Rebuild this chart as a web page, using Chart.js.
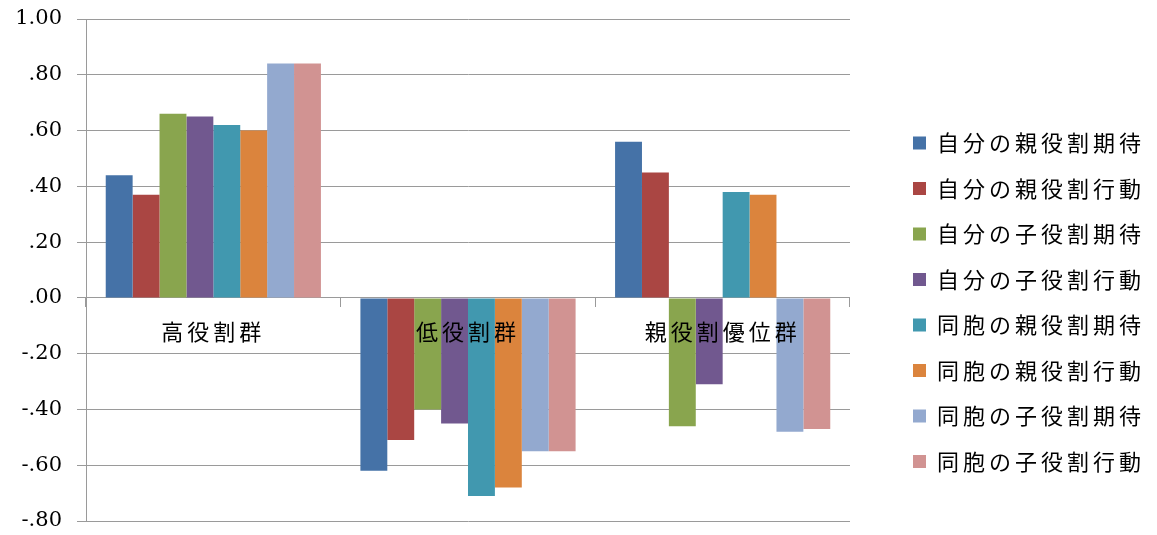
<!DOCTYPE html>
<html>
<head>
<meta charset="utf-8">
<script src="https://cdn.jsdelivr.net/npm/chart.js@4"></script>
<style>
  html, body { margin: 0; padding: 0; background: #fff; }
  #wrap { width: 1157px; height: 535px; }
</style>
</head>
<body>
<div id="wrap"><canvas id="myChart"></canvas></div>
<script>
const categories = ['高役割群', '低役割群', '親役割優位群'];

const seriesNames = [
    '自分の親役割期待', '自分の親役割行動', '自分の子役割期待', '自分の子役割行動',
    '同胞の親役割期待', '同胞の親役割行動', '同胞の子役割期待', '同胞の子役割行動'
];

const jibunOyaKitai = [0.44, -0.62, 0.56];
const jibunOyaKodo = [0.37, -0.51, 0.45];
const jibunKoKitai = [0.66, -0.40, -0.46];
const jibunKoKodo = [0.65, -0.45, -0.31];
const kyodaiOyaKitai = [0.62, -0.71, 0.38];
const kyodaiOyaKodo = [0.60, -0.68, 0.37];
const kyodaiKoKitai = [0.84, -0.55, -0.48];
const kyodaiKoKodo = [0.84, -0.55, -0.47];

const seriesValues = [
    jibunOyaKitai, jibunOyaKodo, jibunKoKitai, jibunKoKodo,
    kyodaiOyaKitai, kyodaiOyaKodo, kyodaiKoKitai, kyodaiKoKodo
];

const colors = ['#4572A7', '#AA4643', '#89A54E', '#71588F', '#4198AF', '#DB843D', '#93A9CF', '#D19392'];

const yMin = -0.8;
const yMax = 1.0;
const yStep = 0.2;

// 1.00, .80, -.20 ...
function formatTick(v) {
    return v.toFixed(2).replace(/^(-?)0\./, '$1.');
}

const gridColor = '#9a9a9a';
const jpFont = '"Noto Sans CJK JP", "Noto Sans", sans-serif';

// the Japanese text in the original is spaced out a bit
const spacingPlugin = {
    id: 'spacing',
    beforeLayout(chart) { chart.ctx.letterSpacing = '4px'; },
    beforeDraw(chart) { chart.ctx.letterSpacing = '4px'; }
};

// y labels drawn by hand so they keep normal spacing
const yLabelsPlugin = {
    id: 'yLabels',
    afterDraw(chart) {
        const ctx = chart.ctx;
        const y = chart.scales.y;
        ctx.save();
        ctx.letterSpacing = '0px';
        ctx.font = '21px "DejaVu Serif", serif';
        ctx.fillStyle = '#000';
        ctx.textAlign = 'right';
        ctx.textBaseline = 'middle';
        y.ticks.forEach(t => {
            ctx.fillText(formatTick(t.value), 62, y.getPixelForValue(t.value));
        });
        ctx.restore();
    }
};

const datasets = seriesNames.map((name, i) => ({
    label: name,
    data: seriesValues[i],
    backgroundColor: colors[i],
    borderWidth: 0,
    categoryPercentage: 0.845,
    barPercentage: 1.0
}));

const chart = new Chart(document.getElementById('myChart').getContext('2d'), {
    type: 'bar',
    data: {
        labels: categories,
        datasets: datasets
    },
    plugins: [spacingPlugin, yLabelsPlugin],
    options: {
        responsive: true,
        maintainAspectRatio: false,
        animation: false,
        layout: {
            padding: { top: 19, bottom: 14, left: 0, right: 2 }
        },
        plugins: {
            tooltip: { enabled: false },
            legend: {
                position: 'right',
                title: {
                    display: true,
                    text: '',
                    padding: { top: 0, bottom: 50 }
                },
                labels: {
                    boxWidth: 13,
                    boxHeight: 13,
                    padding: 23.5,
                    color: '#000',
                    font: { family: jpFont, size: 22 }
                }
            }
        },
        scales: {
            x: {
                position: { y: 0 },
                grid: {
                    drawOnChartArea: false,
                    drawTicks: true,
                    tickLength: 9,
                    color: gridColor,
                    offset: true
                },
                border: { color: gridColor },
                ticks: {
                    z: 1,
                    padding: 12,
                    maxRotation: 0,
                    color: '#000',
                    font: { family: jpFont, size: 22 }
                }
            },
            y: {
                min: yMin,
                max: yMax,
                afterFit(scale) { scale.width = 86; },
                grid: {
                    color: gridColor,
                    tickLength: 9
                },
                border: { color: gridColor },
                ticks: {
                    display: false,
                    stepSize: yStep
                }
            },
            // empty space between the plot and the legend
            gap: {
                type: 'linear',
                position: 'right',
                display: false,
                afterFit(scale) { scale.width = 39.5; }
            }
        }
    }
});
</script>
</body>
</html>
